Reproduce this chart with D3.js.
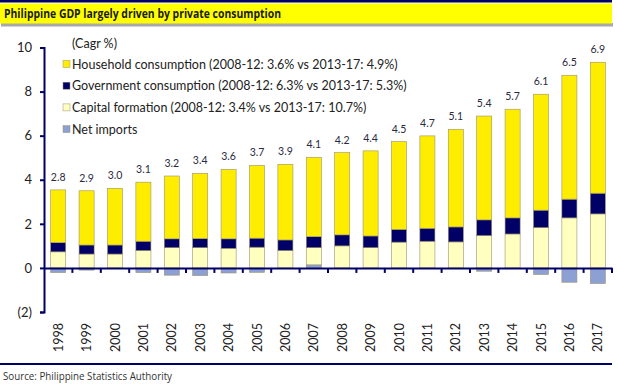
<!DOCTYPE html>
<html>
<head>
<meta charset="utf-8">
<script src="https://cdn.jsdelivr.net/npm/d3@7"></script>
<style>
  body { margin: 0; background: #fff; }
  text { font-family: Lato, "Open Sans", sans-serif; }
</style>
</head>
<body>
<script>
// chart data
var years = ["1998", "1999", "2000", "2001", "2002", "2003", "2004", "2005", "2006", "2007",
  "2008", "2009", "2010", "2011", "2012", "2013", "2014", "2015", "2016", "2017"];
var household  = [2.39, 2.46, 2.57, 2.68, 2.85, 2.96, 3.15, 3.30, 3.43, 3.60,
  3.73, 3.86, 3.98, 4.19, 4.43, 4.71, 4.93, 5.26, 5.62, 5.94];
var government = [0.42, 0.41, 0.41, 0.42, 0.40, 0.41, 0.43, 0.41, 0.48, 0.50,
  0.50, 0.53, 0.58, 0.59, 0.68, 0.71, 0.73, 0.79, 0.85, 0.94];
var capital    = [0.73, 0.63, 0.63, 0.79, 0.92, 0.92, 0.89, 0.94, 0.79, 0.78,
  1.00, 0.92, 1.17, 1.21, 1.18, 1.47, 1.54, 1.83, 2.27, 2.45];
var netImports = [-0.21, -0.10, -0.02, -0.21, -0.33, -0.35, -0.23, -0.20, 0, 0.14,
  0, 0, 0, 0, 0, -0.15, -0.03, -0.30, -0.65, -0.71];
var gdpLabels  = ["2.8", "2.9", "3.0", "3.1", "3.2", "3.4", "3.6", "3.7", "3.9", "4.1",
  "4.2", "4.4", "4.5", "4.7", "5.1", "5.4", "5.7", "6.1", "6.5", "6.9"];
var yTicks = [-2, 0, 2, 4, 6, 8, 10];
var legendItems = [
  "Household consumption (2008-12: 3.6% vs 2013-17: 4.9%)",
  "Government consumption (2008-12: 6.3% vs 2013-17: 5.3%)",
  "Capital formation (2008-12: 3.4% vs 2013-17: 10.7%)",
  "Net imports"
];

var width = 617, height = 387;
var navy = "#000066";
var colors = {
  household: "#ffed00",
  government: "#000066",
  capital: "#ffffc0",
  netImports: "#8da0d4"
};

// rows for the stack
var rows = years.map(function(y, i) {
  return {
    year: y,
    household: household[i],
    government: government[i],
    capital: capital[i],
    netImports: netImports[i],
    label: gdpLabels[i]
  };
});

// bottom-up order as in the reference: net imports, capital, gov, household
var keys = ["netImports", "capital", "government", "household"];
var series = d3.stack().keys(keys).offset(d3.stackOffsetDiverging)(rows);

var x = d3.scaleBand().domain(years).range([44, 612]).paddingInner(0.47).paddingOuter(0.235);
var y = d3.scaleLinear().domain([-2, 10]).range([312, 47.5]);

var svg = d3.select("body").append("svg")
  .attr("width", width)
  .attr("height", height);

// title banner
svg.append("rect").attr("x", 0).attr("y", 0).attr("width", 612).attr("height", 2.5).attr("fill", navy);
svg.append("rect").attr("x", 1).attr("y", 23).attr("width", 612).attr("height", 3.5).attr("fill", "#a8a8a8");
svg.append("rect").attr("x", 0).attr("y", 3.5).attr("width", 612).attr("height", 20).attr("fill", "#ffff00");
svg.append("text")
  .attr("x", 4).attr("y", 18)
  .style("font-family", "'Open Sans', sans-serif")
  .style("font-weight", 700)
  .style("font-size", "12.5px")
  .attr("fill", "#1a1a1a")
  .attr("textLength", 277)
  .attr("lengthAdjust", "spacingAndGlyphs")
  .text("Philippine GDP largely driven by private consumption");

// bars
svg.append("g").selectAll("g")
  .data(series)
  .enter().append("g")
  .attr("fill", function(d) { return colors[d.key]; })
  .selectAll("rect")
  .data(function(d) { return d; })
  .enter().append("rect")
  .attr("x", function(d) { return x(d.data.year); })
  .attr("width", x.bandwidth())
  .attr("y", function(d) { return y(Math.max(d[0], d[1])); })
  .attr("height", function(d) { return Math.abs(y(d[0]) - y(d[1])); })
  .attr("stroke", function(d) { return d[0] === d[1] ? "none" : "#9a9270"; })
  .attr("stroke-width", 0.6);

// total labels
svg.append("g").selectAll("text")
  .data(rows)
  .enter().append("text")
  .attr("x", function(d) { return x(d.year) + x.bandwidth() / 2; })
  .attr("y", function(d) {
    var top = Math.max(0, d.netImports) + d.capital + d.government + d.household;
    return y(top) - 9;
  })
  .attr("text-anchor", "middle")
  .style("font-size", "10.5px")
  .attr("fill", "#2a2a40")
  .text(function(d) { return d.label; });

// y axis
var yAxis = svg.append("g")
  .attr("transform", "translate(44,0)")
  .call(d3.axisLeft(y).tickValues(yTicks).tickSize(4)
    .tickFormat(function(d) { return d < 0 ? "(" + (-d) + ")" : d; }));
yAxis.select(".domain").attr("stroke", navy).attr("stroke-width", 2);
yAxis.selectAll(".tick line").attr("stroke", navy).attr("stroke-width", 2);
yAxis.selectAll(".tick text")
  .attr("x", -12)
  .style("font-size", "13px")
  .style("font-family", "Lato, sans-serif")
  .attr("fill", "#222");

// x axis at zero
var xAxis = svg.append("g")
  .attr("transform", "translate(0," + y(0) + ")")
  .call(d3.axisBottom(x).tickSize(0).tickFormat(""));
xAxis.select(".domain").attr("stroke", navy).attr("stroke-width", 2);
// ticks on the band edges
xAxis.selectAll(".edge")
  .data(years.slice(1).concat(["end"]))
  .enter().append("line")
  .attr("x1", function(d, i) { return 44 + x.step() * (i + 1); })
  .attr("x2", function(d, i) { return 44 + x.step() * (i + 1); })
  .attr("y1", 0).attr("y2", 5)
  .attr("stroke", navy).attr("stroke-width", 2);

// year labels at the low position
svg.append("g").selectAll("text")
  .data(years)
  .enter().append("text")
  .attr("transform", function(d) {
    return "translate(" + (x(d) + x.bandwidth() / 2 + 4.5) + ",323) rotate(-90)";
  })
  .attr("text-anchor", "end")
  .style("font-size", "12.5px")
  .attr("fill", "#222")
  .text(function(d) { return d; });

// legend
var legend = svg.append("g");
legend.append("text")
  .attr("x", 72).attr("y", 48)
  .style("font-size", "12.5px")
  .attr("fill", "#222")
  .text("(Cagr %)");
var legendKeys = ["household", "government", "capital", "netImports"];
legend.selectAll("g")
  .data(legendItems)
  .enter().append("g")
  .attr("transform", function(d, i) { return "translate(63," + (64 + i * 21.7) + ")"; })
  .each(function(d, i) {
    var g = d3.select(this);
    g.append("rect")
      .attr("x", 0).attr("y", -3.5).attr("width", 7).attr("height", 7)
      .attr("fill", colors[legendKeys[i]])
      .attr("stroke", "#9a9270").attr("stroke-width", 0.5);
    g.append("text")
      .attr("x", 9).attr("y", 4.5)
      .style("font-size", "12.5px")
      .attr("fill", "#222")
      .text(d);
  });

// footer
svg.append("rect").attr("x", 0).attr("y", 363).attr("width", 612).attr("height", 2).attr("fill", navy);
svg.append("text")
  .attr("x", 3).attr("y", 380)
  .style("font-family", "'Open Sans', sans-serif")
  .style("font-size", "11px")
  .attr("fill", "#333")
  .attr("textLength", 169)
  .attr("lengthAdjust", "spacingAndGlyphs")
  .text("Source: Philippine Statistics Authority");
</script>
</body>
</html>
